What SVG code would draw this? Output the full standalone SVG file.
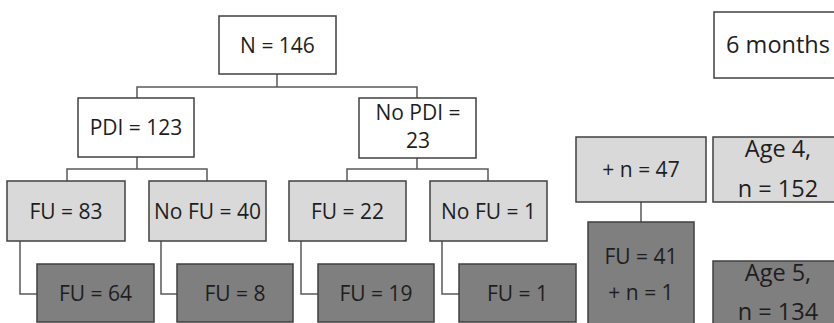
<svg xmlns="http://www.w3.org/2000/svg" width="834" height="323" viewBox="0 0 834 323">
<style>
.box{stroke:#404040;stroke-width:1.5}
.w{fill:#ffffff}
.l{fill:#d9d9d9}
.d{fill:#7f7f7f}
.t{font-family:"Open Sans","Liberation Sans",sans-serif;font-size:21px;fill:#1e1e1e;text-anchor:middle}
.big{font-size:23.5px}
.c{fill:none;stroke:#595959;stroke-width:1.5}
</style>
<rect width="834" height="323" fill="#ffffff"/>
<g id="connectors">
<path class="c" d="M277,74V87M137,98V87H417V98"/>
<path class="c" d="M137,157V169M67,181V169H207V181"/>
<path class="c" d="M417,158V169M347,181V169H488V181"/>
<path class="c" d="M20,241V294H37M161,241V294H177M301,241V294H318M442,241V294H459"/>
<path class="c" d="M641,202V222"/>
</g>
<g id="n146"><rect class="box w" x="219" y="16" width="117" height="58"/><text class="t" x="277.5" y="52.5">N = 146</text></g>
<g id="pdi"><rect class="box w" x="78" y="98" width="116" height="59"/><text class="t" x="136" y="135">PDI = 123</text></g>
<g id="nopdi"><rect class="box w" x="359" y="98" width="117" height="60"/><text class="t" x="418" y="120">No PDI =</text><text class="t" x="418" y="148">23</text></g>
<g id="fu83"><rect class="box l" x="7" y="181" width="118" height="60"/><text class="t" x="66" y="218.5">FU = 83</text></g>
<g id="nofu40"><rect class="box l" x="149" y="181" width="117" height="60"/><text class="t" x="207.5" y="218.5">No FU = 40</text></g>
<g id="fu22"><rect class="box l" x="289" y="181" width="117" height="60"/><text class="t" x="347.5" y="218.5">FU = 22</text></g>
<g id="nofu1"><rect class="box l" x="430" y="181" width="117" height="60"/><text class="t" x="488.5" y="218.5">No FU = 1</text></g>
<g id="fu64"><rect class="box d" x="37" y="264" width="117" height="58"/><text class="t" x="95.5" y="300.5">FU = 64</text></g>
<g id="fu8"><rect class="box d" x="177" y="264" width="116" height="58"/><text class="t" x="235" y="300.5">FU = 8</text></g>
<g id="fu19"><rect class="box d" x="318" y="264" width="116" height="58"/><text class="t" x="376" y="300.5">FU = 19</text></g>
<g id="fu1"><rect class="box d" x="459" y="264" width="117" height="58"/><text class="t" x="517.5" y="300.5">FU = 1</text></g>
<g id="months6"><rect class="box w" x="714" y="12" width="130" height="66"/><text class="t big" x="778" y="53">6 months</text></g>
<g id="plus47"><rect class="box l" x="576" y="137" width="130" height="65"/><text class="t" x="641" y="177">+ n = 47</text></g>
<g id="age4"><rect class="box l" x="713" y="137" width="131" height="65"/><text class="t big" x="778" y="157">Age 4,</text><text class="t big" x="778" y="197">n = 152</text></g>
<g id="fu41"><rect class="box d" x="588" y="222" width="106" height="110"/><text class="t" x="641" y="264">FU = 41</text><text class="t" x="641" y="300">+ n = 1</text></g>
<g id="age5"><rect class="box d" x="713" y="261" width="131" height="70"/><text class="t big" x="778" y="281">Age 5,</text><text class="t big" x="778" y="320">n = 134</text></g>
</svg>
